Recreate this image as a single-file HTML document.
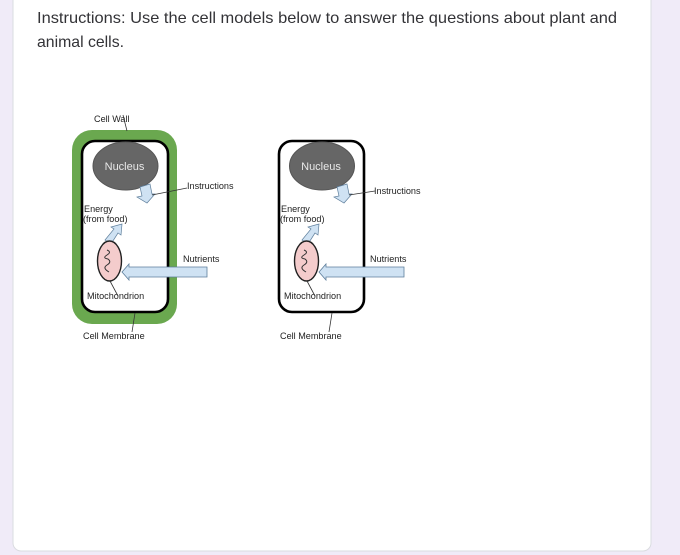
<!DOCTYPE html>
<html><head><meta charset="utf-8"><style>
html,body{margin:0;padding:0;width:680px;height:555px;overflow:hidden;background:#f0ebf8}
svg{display:block}
text{font-family:"Liberation Sans",sans-serif}
</style></head><body>
<svg width="680" height="555" viewBox="0 0 680 555" xmlns="http://www.w3.org/2000/svg">
<defs><filter id="b" x="-5%" y="-5%" width="110%" height="110%"><feGaussianBlur stdDeviation="0.3"/></filter></defs>
<rect x="13" y="-20" width="638" height="571" rx="8" fill="#fff" stroke="#dadce0" stroke-width="1"/>
<text x="37" y="23" font-size="15.8" fill="#333337" textLength="580" lengthAdjust="spacingAndGlyphs">Instructions: Use the cell models below to answer the questions about plant and</text>
<text x="37" y="47" font-size="15.8" fill="#333337" textLength="87" lengthAdjust="spacingAndGlyphs">animal cells.</text>
<g filter="url(#b)">
<!-- left cell -->
<rect x="72" y="130" width="105" height="194" rx="20" fill="#6aa84f"/>
<rect x="82" y="141" width="86" height="171" rx="13" fill="#fff" stroke="#000" stroke-width="2.6"/>
<ellipse cx="125.5" cy="166" rx="32.5" ry="24" fill="#666" stroke="#555"/>
<text x="124.5" y="170" font-size="11" fill="#e8e8e8" text-anchor="middle">Nucleus</text>
<path d="M140 187L150 184L152 194L155 194L147 203L137 197L142 196Z" fill="#cfe2f3" stroke="#5f7f9c" stroke-width=".7"/>
<path d="M105 240L114 229L111 227L122 224L121 235L118 233L111 244Z" fill="#cfe2f3" stroke="#5f7f9c" stroke-width=".7"/>
<ellipse cx="109.5" cy="261" rx="12" ry="20" fill="#f4cccc" stroke="#222" stroke-width="1.4"/>
<path d="M107 250q5 2 0 5t1 4q4 3-1 6t2 7" fill="none" stroke="#333" stroke-width="1"/>
<path d="M122 272L129 264V267H207V277H129V280Z" fill="#cfe2f3" stroke="#5f7f9c" stroke-width=".8"/>
<path d="M123 115L127 131M110 281L118 296M135 313L132 332M152 195L187 188" fill="none" stroke="#333" stroke-width=".8"/>
<g font-size="9.1" fill="#222">
<text x="94" y="122">Cell Wall</text>
<text x="187" y="189">Instructions</text>
<text x="84" y="212">Energy</text>
<text x="83" y="222">(from food)</text>
<text x="183" y="262">Nutrients</text>
<text x="87" y="299">Mitochondrion</text>
<text x="83" y="339">Cell Membrane</text>
</g>
<!-- right cell -->
<rect x="279" y="141" width="85" height="171" rx="13" fill="#fff" stroke="#000" stroke-width="2.6"/>
<ellipse cx="322" cy="166" rx="32.5" ry="24" fill="#666" stroke="#555"/>
<text x="321" y="170" font-size="11" fill="#e8e8e8" text-anchor="middle">Nucleus</text>
<path d="M337 187L347 184L349 194L352 194L344 203L334 197L339 196Z" fill="#cfe2f3" stroke="#5f7f9c" stroke-width=".7"/>
<path d="M302 240L311 229L308 227L319 224L318 235L315 233L308 244Z" fill="#cfe2f3" stroke="#5f7f9c" stroke-width=".7"/>
<ellipse cx="306.5" cy="261" rx="12" ry="20" fill="#f4cccc" stroke="#222" stroke-width="1.4"/>
<path d="M304 250q5 2 0 5t1 4q4 3-1 6t2 7" fill="none" stroke="#333" stroke-width="1"/>
<path d="M319 272L326 264V267H404V277H326V280Z" fill="#cfe2f3" stroke="#5f7f9c" stroke-width=".8"/>
<path d="M307 281L315 296M332 313L329 332M349 195L375 191" fill="none" stroke="#333" stroke-width=".8"/>
<g font-size="9.1" fill="#222">
<text x="374" y="194">Instructions</text>
<text x="281" y="212">Energy</text>
<text x="280" y="222">(from food)</text>
<text x="370" y="262">Nutrients</text>
<text x="284" y="299">Mitochondrion</text>
<text x="280" y="339">Cell Membrane</text>
</g>
</g>
</svg>
</body></html>
